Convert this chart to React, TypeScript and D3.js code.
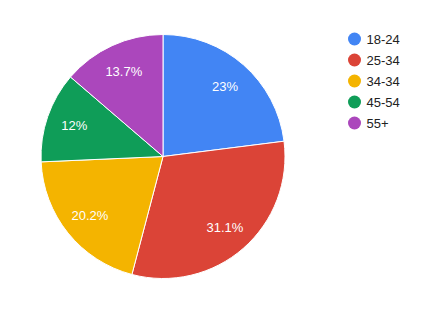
import React from "react";
import * as d3 from "d3";

const categories = ["18-24", "25-34", "34-34", "45-54", "55+"];
const values = [23, 31.1, 20.2, 12, 13.7];
const labels = ["23%", "31.1%", "20.2%", "12%", "13.7%"];
const colors = ["#4285f4", "#db4437", "#f4b400", "#0f9d58", "#ab47bc"];

export default function App() {
  const W = 439, H = 314;
  const cx = 163, cy = 156.5, R = 122;
  const pie = d3.pie<number>().sort(null).value((d) => d);
  const arcs = pie(values);
  const arc = d3.arc<d3.PieArcDatum<number>>().innerRadius(0).outerRadius(R);
  const labelArc = d3.arc<d3.PieArcDatum<number>>().innerRadius(R * 0.77).outerRadius(R * 0.77);
  const font = "Arial, 'Liberation Sans', sans-serif";
  return (
    <svg width={W} height={H} style={{ position: "absolute", left: 0, top: 0 }}>
      <rect width={W} height={H} fill="#fff" />
      <g transform={`translate(${cx},${cy})`}>
        {arcs.map((a, i) => (
          <path key={i} d={arc(a) || ""} fill={colors[i]} stroke="#fff" strokeWidth={1} />
        ))}
        {arcs.map((a, i) => {
          const [x, y] = labelArc.centroid(a);
          return (
            <text key={i} x={x} y={y} dy="0.35em" textAnchor="middle" fill="#fff" fontSize={13} fontFamily={font}>
              {labels[i]}
            </text>
          );
        })}
      </g>
      <g>
        {categories.map((c, i) => (
          <g key={c} transform={`translate(354.5,${39 + i * 21})`}>
            <circle r={6.5} fill={colors[i]} />
            <text x={12} dy="0.35em" fontSize={13} fill="#222" fontFamily={font}>{c}</text>
          </g>
        ))}
      </g>
    </svg>
  );
}
